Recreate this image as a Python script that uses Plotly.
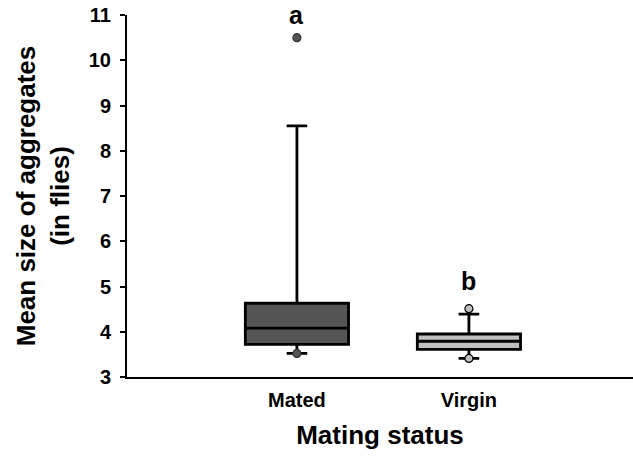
import plotly.graph_objects as go

# Summary statistics of aggregate size per mating status
categories = ["Mated", "Virgin"]
q1 = [3.72, 3.61]
median = [4.08, 3.79]
q3 = [4.63, 3.95]
lower_fence = [3.52, 3.41]
upper_fence = [8.55, 4.39]

# Individual points drawn beyond / at the whiskers
mated_points = [10.5, 3.52]
virgin_points = [4.51, 3.41]

# Significance letters
letters = ["a", "b"]
letter_y = [11.0, 5.12]

fills = ["#555555", "#c0c0c0"]
point_fills = ["#555555", "#c0c0c0"]
point_edges = ["#333333", "#000000"]

FONT = "Liberation Sans, Arial, sans-serif"

fig = go.Figure()

for i, cat in enumerate(categories):
    fig.add_trace(go.Box(
        x=[cat],
        q1=[q1[i]],
        median=[median[i]],
        q3=[q3[i]],
        lowerfence=[lower_fence[i]],
        upperfence=[upper_fence[i]],
        fillcolor=fills[i],
        line=dict(color="black", width=2.8),
        width=0.6,
        whiskerwidth=0.2,
        boxpoints=False,
        showlegend=False,
        hoverinfo="skip",
    ))

for cat, pts, fc, ec in zip(categories, [mated_points, virgin_points], point_fills, point_edges):
    fig.add_trace(go.Scatter(
        x=[cat] * len(pts),
        y=pts,
        mode="markers",
        marker=dict(size=8, color=fc, line=dict(color=ec, width=1.2)),
        showlegend=False,
        cliponaxis=False,
        hoverinfo="skip",
    ))

for cat, lab, ly in zip(categories, letters, letter_y):
    fig.add_annotation(
        x=cat, y=ly, xref="x", yref="y", text=lab, showarrow=False,
        font=dict(family=FONT, size=25, color="black", weight="bold"),
    )

fig.update_layout(
    width=633, height=463,
    margin=dict(l=127, r=0, t=15, b=86),
    plot_bgcolor="white", paper_bgcolor="white",
    font=dict(family=FONT, color="black", weight="bold"),
)

fig.update_xaxes(
    type="category",
    categoryorder="array", categoryarray=categories,
    range=[-0.988, 1.954],
    showline=True, linecolor="black", linewidth=2,
    ticks="outside", ticklen=4, tickcolor="rgba(0,0,0,0)",
    tickfont=dict(family=FONT, size=20, color="black", weight="bold"),
    showgrid=False, zeroline=False,
    title=dict(text="Mating status", standoff=16,
               font=dict(family=FONT, size=26, color="black", weight="bold")),
)

fig.update_yaxes(
    range=[3, 11],
    tickmode="array", tickvals=[3, 4, 5, 6, 7, 8, 9, 10, 11],
    showline=True, linecolor="black", linewidth=2,
    ticks="outside", ticklen=5, tickwidth=2, tickcolor="black",
    ticklabelstandoff=5,
    tickfont=dict(family=FONT, size=20, color="black", weight="bold"),
    showgrid=False, zeroline=False,
    title=dict(text="Mean size of aggregates<br>(in flies)", standoff=12,
               font=dict(family=FONT, size=26, color="black", weight="bold")),
)

fig.write_html("out.html")
